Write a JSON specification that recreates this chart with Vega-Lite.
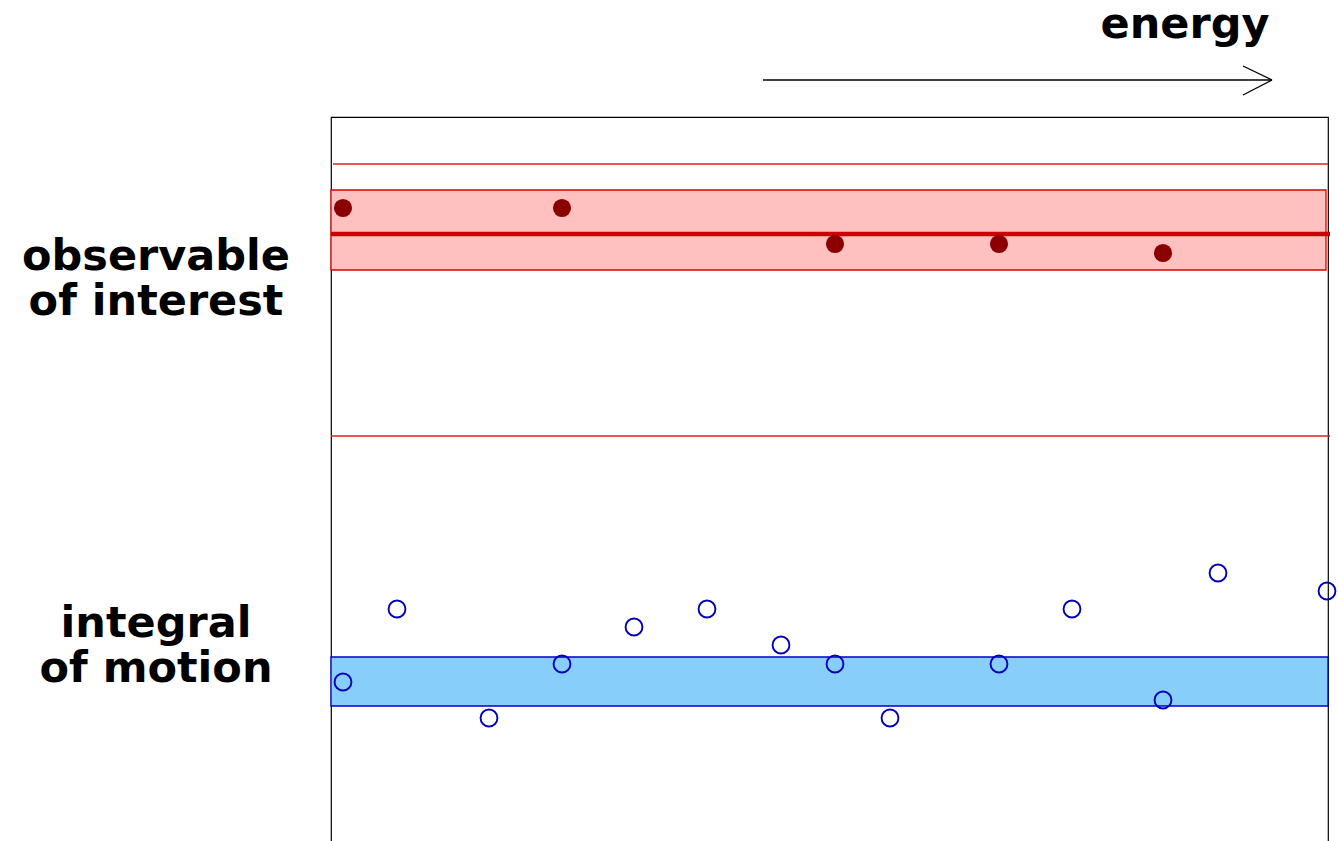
{
  "$schema": "https://vega.github.io/schema/vega-lite/v6.json",
  "width": 997,
  "height": 740,
  "autosize": {"type": "none"},
  "padding": {"left": 331, "top": 117, "right": 10, "bottom": 0},
  "background": "white",
  "view": {"stroke": "#000000", "strokeWidth": 1.2},
  "datasets": {
    "bands": [
      {"band": "observable", "x": 0, "x2": 995, "y": 73, "y2": 153},
      {"band": "integral", "x": 0, "x2": 997, "y": 540, "y2": 589}
    ],
    "thin": [
      {"x": 2, "x2": 997, "y": 47},
      {"x": 0, "x2": 999, "y": 319}
    ],
    "mean": [{"x": 0, "x2": 999, "y": 117}],
    "obs": [
      {"x": 12, "y": 91}, {"x": 231, "y": 91}, {"x": 504, "y": 127}, {"x": 668, "y": 127}, {"x": 832, "y": 136}
    ],
    "iom": [
      {"x": 12, "y": 565}, {"x": 66, "y": 492}, {"x": 158, "y": 601}, {"x": 231, "y": 547},
      {"x": 303, "y": 510}, {"x": 376, "y": 492}, {"x": 450, "y": 528}, {"x": 504, "y": 547},
      {"x": 559, "y": 601}, {"x": 668, "y": 547}, {"x": 741, "y": 492}, {"x": 832, "y": 583},
      {"x": 887, "y": 456}, {"x": 996, "y": 474}
    ],
    "arrow": [
      {"x": 432, "y": -37, "x2": 941, "y2": -37},
      {"x": 912, "y": -51, "x2": 941, "y2": -37},
      {"x": 912, "y": -22, "x2": 941, "y2": -37}
    ],
    "labels": [
      {"label": "energy", "x": 854, "y": -79},
      {"label": "observable", "x": -175, "y": 153},
      {"label": "of interest", "x": -175, "y": 198},
      {"label": "integral", "x": -175, "y": 520},
      {"label": "of motion", "x": -175, "y": 565}
    ]
  },
  "layer": [
    {
      "data": {"name": "bands"},
      "mark": {"type": "rect", "strokeWidth": 1.3, "opacity": 1},
      "encoding": {
        "x": {"field": "x", "type": "quantitative", "axis": null, "scale": {"domain": [0, 997], "nice": false, "zero": false}},
        "x2": {"field": "x2"},
        "y": {"field": "y", "type": "quantitative", "axis": null, "scale": {"domain": [0, 740], "reverse": true, "nice": false, "zero": false}},
        "y2": {"field": "y2"},
        "fill": {"field": "band", "type": "nominal", "legend": null, "scale": {"domain": ["observable", "integral"], "range": ["#ffc0c0", "#87cefa"]}},
        "stroke": {"field": "band", "type": "nominal", "legend": null, "scale": {"domain": ["observable", "integral"], "range": ["#dd0000", "#0000cc"]}}
      }
    },
    {
      "data": {"name": "thin"},
      "mark": {"type": "rule", "color": "#e02020", "strokeWidth": 1.3},
      "encoding": {
        "x": {"field": "x", "type": "quantitative"},
        "x2": {"field": "x2"},
        "y": {"field": "y", "type": "quantitative"}
      }
    },
    {
      "data": {"name": "mean"},
      "mark": {"type": "rule", "color": "#cc0000", "strokeWidth": 4.5},
      "encoding": {
        "x": {"field": "x", "type": "quantitative"},
        "x2": {"field": "x2"},
        "y": {"field": "y", "type": "quantitative"}
      }
    },
    {
      "data": {"name": "obs"},
      "mark": {"type": "point", "shape": "circle", "filled": true, "color": "#8b0000", "size": 330, "opacity": 1},
      "encoding": {
        "x": {"field": "x", "type": "quantitative"},
        "y": {"field": "y", "type": "quantitative"}
      }
    },
    {
      "data": {"name": "iom"},
      "mark": {"type": "point", "shape": "circle", "filled": false, "color": "#0000bb", "strokeWidth": 1.9, "size": 285, "opacity": 1},
      "encoding": {
        "x": {"field": "x", "type": "quantitative"},
        "y": {"field": "y", "type": "quantitative"}
      }
    },
    {
      "data": {"name": "arrow"},
      "mark": {"type": "rule", "color": "#000000", "strokeWidth": 1.3},
      "encoding": {
        "x": {"field": "x", "type": "quantitative"},
        "x2": {"field": "x2"},
        "y": {"field": "y", "type": "quantitative"},
        "y2": {"field": "y2"}
      }
    },
    {
      "data": {"name": "labels"},
      "mark": {"type": "text", "font": "DejaVu Sans", "fontWeight": "bold", "fontSize": 43, "align": "center", "baseline": "alphabetic", "color": "#000000"},
      "encoding": {
        "x": {"field": "x", "type": "quantitative"},
        "y": {"field": "y", "type": "quantitative"},
        "text": {"field": "label"}
      }
    }
  ]
}
